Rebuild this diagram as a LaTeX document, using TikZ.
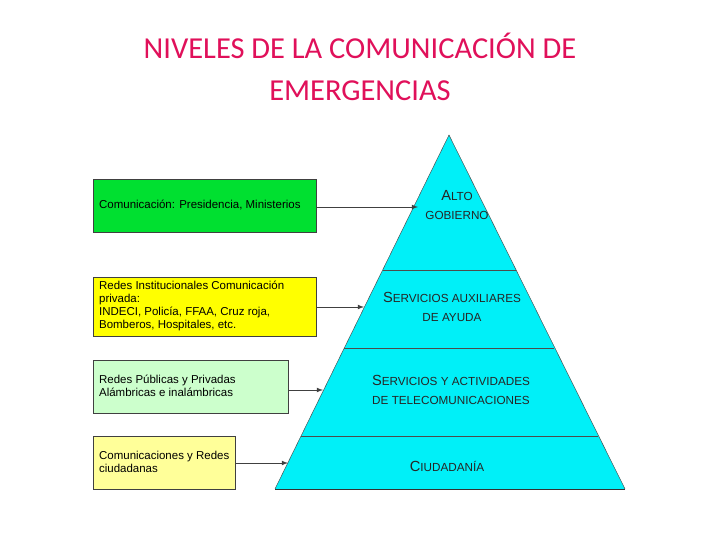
\documentclass[tikz,border=0pt]{standalone}
\usepackage{fontspec}
\setmainfont{Liberation Sans}
\newfontfamily\titlefont{Carlito}
\usetikzlibrary{positioning}
\definecolor{titlepink}{HTML}{E0105A}
\definecolor{pyrcyan}{HTML}{00F0F8}
\definecolor{boxgreen}{HTML}{00E030}
\definecolor{boxyellow}{HTML}{FFFF00}
\definecolor{boxmint}{HTML}{CCFFCC}
\definecolor{boxcream}{HTML}{FFFF99}
\newcommand{\pcap}[2]{{\fontsize{12.5}{14}\selectfont #1}{\fontsize{10}{12}\selectfont #2}}
\begin{document}
\begin{tikzpicture}[x=0.03cm,y=-0.03cm,
                    info text/.style={font=\fontsize{9.8}{11.2}\selectfont,align=left,anchor=west},
                    level text/.style={align=center,text=black!85},
                    link/.style={draw=black!75,thick,-latex}]
  \useasboundingbox (0,0) rectangle (720,540);

  % title
  \node[titlepink,font=\titlefont\fontsize{26}{36}\selectfont,align=center] (title) at (360,67)
    {NIVELES DE LA COMUNICACIÓN DE\\EMERGENCIAS};

  % pyramid
  \coordinate (apex) at (449,135);
  \coordinate (baseL) at (275,489);
  \coordinate (baseR) at (625,489);
  \fill[pyrcyan] (apex) -- (baseR) -- (baseL) -- cycle;
  \draw[black!70] (382.6,270) -- (515.7,270);
  \draw[black!70] (344,348) -- (554,348);
  \draw[black!70] (301,436) -- (598,436);
  \draw[black!70] (apex) -- (baseL);
  \draw[black!70] (apex) -- (baseR);
  \draw[black!80,thick] (baseL) -- (baseR);

  \node[level text] (alto) at (457,205) {\pcap{A}{LTO}\\[4pt]\pcap{}{GOBIERNO}};
  \node[level text] (auxil) at (452,307) {\pcap{S}{ERVICIOS AUXILIARES}\\[4pt]\pcap{}{DE AYUDA}};
  \node[level text] (telec) at (451,390) {\pcap{S}{ERVICIOS Y ACTIVIDADES}\\[4pt]\pcap{}{DE TELECOMUNICACIONES}};
  \node[level text] (ciuda) at (447,466) {\pcap{C}{IUDADANÍA}};

  % boxes on the left
  \fill[boxgreen,draw=black!75] (93,179) rectangle (316,232);
  \fill[boxyellow,draw=black!75] (93,277) rectangle (316,336);
  \fill[boxmint,draw=black!75] (93,360) rectangle (288,413);
  \fill[boxcream,draw=black!75] (93,436) rectangle (235,489);

  \node[info text] (gob) at (95,205) {Comunicación: Presidencia, Ministerios};
  \node[info text] (inst) at (95,306) {Redes Institucionales Comunicación\\privada:\\INDECI, Policía, FFAA, Cruz roja,\\Bomberos, Hospitales, etc.};
  \node[info text] (pub) at (95,386) {Redes Públicas y Privadas\\Alámbricas e inalámbricas};
  \node[info text] (ciu) at (95,462) {Comunicaciones y Redes\\ciudadanas};

  % arrows
  \coordinate (gobR) at (316,207);
  \coordinate (instR) at (316,307);
  \coordinate (pubR) at (288,390);
  \coordinate (ciuR) at (235,463);
  \coordinate (gobT) at (418,207);
  \coordinate (instT) at (364,307);
  \coordinate (pubT) at (323,390);
  \coordinate (ciuT) at (288,463);
  \draw[link] (gobR) -- (gobT);
  \draw[link] (instR) -- (instT);
  \draw[link] (pubR) -- (pubT);
  \draw[link] (ciuR) -- (ciuT);
\end{tikzpicture}
\end{document}
